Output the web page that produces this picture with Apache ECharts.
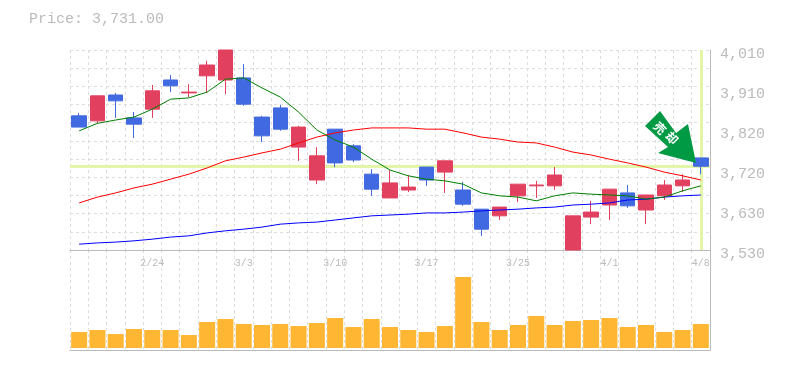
<!DOCTYPE html>
<html>

<head>
    <meta charset="utf-8" />
    <title>Price chart</title>
    <style type="text/css">
        * {
            margin: 0;
            padding: 0
        }

        html,
        body {
            width: 100%;
            height: 100%;
            background: #fff;
        }

        #main {
            width: 785px;
            height: 370px;
        }
    </style>
    <script src="https://cdn.jsdelivr.net/npm/echarts@6/dist/echarts.min.js"></script>
</head>

<body>
    <div id="main"></div>
    <script>
        const dates = ['2/18', '2/19', '2/20', '2/21', '2/24', '2/25', '2/26', '2/27', '2/28', '3/3', '3/4', '3/5',
            '3/6', '3/7', '3/10', '3/11', '3/12', '3/13', '3/14', '3/17', '3/18', '3/19', '3/20', '3/24', '3/25',
            '3/26', '3/27', '3/28', '3/31', '4/1', '4/2', '4/3', '4/4', '4/7', '4/8'];
        // open, close, low, high (red = up, blue = down)
        const candles = [
            [3852, 3825, 3825, 3859], [3840, 3900, 3834, 3900], [3902, 3888, 3847, 3907], [3847, 3832, 3799, 3861],
            [3868, 3912, 3847, 3926], [3938, 3924, 3909, 3950], [3907, 3909, 3897, 3928], [3948, 3974, 3907, 3984],
            [3938, 4010, 3904, 4010], [3943, 3880, 3876, 3976], [3849, 3804, 3789, 3852], [3871, 3820, 3816, 3878],
            [3777, 3825, 3744, 3828], [3698, 3756, 3688, 3777], [3820, 3739, 3729, 3820], [3780, 3746, 3741, 3784],
            [3712, 3676, 3660, 3724], [3655, 3691, 3655, 3722], [3674, 3681, 3669, 3710], [3729, 3698, 3684, 3729],
            [3717, 3744, 3667, 3744], [3674, 3640, 3636, 3693], [3628, 3580, 3564, 3628], [3612, 3633, 3602, 3633],
            [3660, 3688, 3645, 3688], [3684, 3686, 3655, 3696], [3684, 3710, 3674, 3729], [3530, 3612, 3530, 3612],
            [3609, 3621, 3592, 3648], [3638, 3676, 3602, 3676], [3667, 3636, 3631, 3686], [3626, 3662, 3592, 3662],
            [3660, 3686, 3650, 3698], [3684, 3698, 3669, 3712], [3751, 3731, 3712, 3751]
        ];
        const maShort = [3816, 3834, 3842, 3849, 3868, 3892, 3895, 3909, 3940, 3943, 3919, 3897, 3861, 3818, 3794,
            3777, 3748, 3722, 3708, 3700, 3696, 3688, 3667, 3660, 3657, 3648, 3660, 3667, 3664, 3662, 3660, 3652,
            3657, 3672, 3684];
        const maMid = [3643, 3657, 3667, 3679, 3688, 3700, 3712, 3727, 3744, 3753, 3763, 3772, 3787, 3801, 3811,
            3818, 3823, 3823, 3823, 3820, 3820, 3811, 3801, 3796, 3789, 3787, 3777, 3765, 3758, 3748, 3739, 3729,
            3717, 3708, 3698];
        const maLong = [3544, 3547, 3549, 3552, 3556, 3561, 3564, 3571, 3576, 3580, 3585, 3592, 3595, 3597, 3602,
            3607, 3612, 3614, 3616, 3619, 3619, 3621, 3624, 3626, 3628, 3631, 3633, 3638, 3640, 3643, 3650, 3652,
            3657, 3660, 3662];
        const volume = [160, 180, 140, 190, 180, 180, 130, 260, 290, 240, 230, 240, 220, 250, 300, 210, 290, 210,
            180, 160, 220, 710, 260, 180, 230, 320, 230, 270, 280, 300, 210, 230, 160, 180, 240];
        const yTickLabels = ['3,530', '3,630', '3,720', '3,820', '3,910', '4,010'];
        const lastPrice = 3731;
        const lastDate = '4/8';

        const fontMono = '"Liberation Mono", monospace';
        const gridLine = { show: true, lineStyle: { color: '#ddd', type: [3, 3], width: 1 } };
        const solidLine = { show: true, onZero: false, lineStyle: { color: '#bbb', width: 1 } };
        const arrowText = (text, x, y) => ({
            type: 'text',
            z: 51,
            x: x,
            y: y,
            rotation: -Math.PI / 4,
            style: {
                text: text,
                fill: '#fff',
                font: 'bold 12px "Noto Sans CJK JP"',
                align: 'center',
                verticalAlign: 'middle'
            }
        });

        const myChart = echarts.init(document.getElementById('main'));
        myChart.setOption({
            animation: false,
            backgroundColor: '#fff',
            title: {
                text: 'Price: 3,731.00',
                left: 24,
                top: 7,
                textStyle: { fontFamily: fontMono, fontSize: 15, fontWeight: 'normal', color: '#bbb' }
            },
            grid: [
                { left: 70, right: 75, top: 50, height: 200 },
                { left: 70, right: 75, top: 250, height: 100 }
            ],
            xAxis: [{
                type: 'category',
                gridIndex: 0,
                data: dates,
                axisLine: solidLine,
                axisTick: { show: false },
                splitLine: Object.assign({ interval: 0 }, gridLine),
                axisLabel: {
                    interval: (i) => i % 5 === 4,
                    margin: 8,
                    color: '#bbb',
                    fontFamily: fontMono,
                    fontSize: 10
                }
            }, {
                type: 'category',
                gridIndex: 1,
                data: dates,
                axisLine: solidLine,
                axisTick: { show: false },
                axisLabel: { show: false },
                splitLine: Object.assign({ interval: 0 }, gridLine)
            }],
            yAxis: [{
                // price scale, grid lines only
                type: 'value',
                gridIndex: 0,
                position: 'right',
                min: 3530,
                max: 4010,
                interval: 480 / 11,
                axisLine: solidLine,
                axisTick: { show: false },
                axisLabel: { show: false },
                splitLine: gridLine
            }, {
                // price scale, labels only
                type: 'value',
                gridIndex: 0,
                position: 'right',
                min: 3530,
                max: 4010,
                interval: 96,
                axisLine: { show: false },
                axisTick: { show: false },
                splitLine: { show: false },
                axisLabel: {
                    margin: 10,
                    verticalAlign: 'top',
                    lineHeight: 8,
                    color: '#bbb',
                    fontFamily: fontMono,
                    fontSize: 15,
                    showMinLabel: true,
                    showMaxLabel: true,
                    formatter: (v, i) => yTickLabels[i]
                }
            }, {
                type: 'value',
                gridIndex: 1,
                position: 'right',
                min: -20,
                max: 980,
                axisLine: solidLine,
                axisTick: { show: false },
                axisLabel: { show: false },
                splitLine: { show: false }
            }],
            series: [{
                type: 'candlestick',
                xAxisIndex: 0,
                yAxisIndex: 0,
                data: candles,
                barWidth: 15,
                z: 3,
                itemStyle: {
                    color: '#E2405F',
                    borderColor: '#E2405F',
                    color0: '#4169E1',
                    borderColor0: '#4169E1',
                    borderWidth: 1
                },
                markLine: {
                    silent: true,
                    symbol: 'none',
                    z: 1,
                    label: { show: false },
                    lineStyle: { color: '#E3F5A8', type: 'solid', width: 3 },
                    data: [{ yAxis: lastPrice }, { xAxis: lastDate }]
                }
            }, {
                type: 'line',
                xAxisIndex: 0,
                yAxisIndex: 0,
                data: maLong,
                symbol: 'none',
                z: 4,
                lineStyle: { color: '#0000FF', width: 1 }
            }, {
                type: 'line',
                xAxisIndex: 0,
                yAxisIndex: 0,
                data: maMid,
                symbol: 'none',
                z: 4,
                lineStyle: { color: '#FF0000', width: 1 }
            }, {
                type: 'line',
                xAxisIndex: 0,
                yAxisIndex: 0,
                data: maShort,
                symbol: 'none',
                z: 4,
                lineStyle: { color: '#008000', width: 1 }
            }, {
                type: 'bar',
                xAxisIndex: 1,
                yAxisIndex: 2,
                data: volume,
                barWidth: 16,
                itemStyle: { color: '#FFB733' }
            }],
            graphic: [{
                // signal arrow
                type: 'polygon',
                z: 50,
                shape: {
                    points: [[660, 111], [645, 126], [668, 147], [658, 153], [696, 163], [688, 124], [676, 133]]
                },
                style: { fill: '#009944' }
            }, arrowText('売', 660, 128), arrowText('却', 672, 138)]
        });
    </script>
</body>

</html>
